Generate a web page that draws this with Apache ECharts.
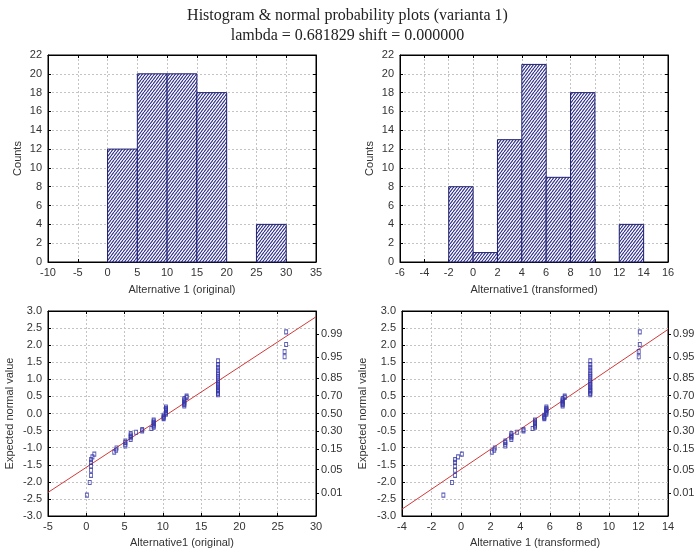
<!DOCTYPE html>
<html><head><meta charset="utf-8">
<script src="https://cdn.jsdelivr.net/npm/echarts@6/dist/echarts.min.js"></script>
<style>html,body{margin:0;padding:0;background:#fff}#c{width:695px;height:551px}</style>
</head><body><div id="c"></div>
<script>
// ---------- data ----------
const titleText = 'Histogram & normal probability plots (varianta 1)\nlambda = 0.681829 shift = 0.000000';

const origBinLo = [0, 5, 10, 15, 25];
const origBinHi = [5, 10, 15, 20, 30];
const origCounts = [12, 20, 20, 18, 4];

const transBinLo = [-2, 0, 2, 4, 6, 8, 12];
const transBinHi = [0, 2, 4, 6, 8, 10, 14];
const transCounts = [8, 1, 13, 21, 9, 18, 4];

const origValues = [
  0.08, 0.45, 0.62, 0.62, 0.62, 0.62, 0.62, 0.8, 1.05, 3.65,
  3.9, 3.95, 5.1, 5.1, 5.1, 5.1, 5.8, 5.8, 5.8, 5.8,
  5.8, 6.5, 7.3, 7.3, 8.5, 8.8, 8.8, 8.8, 8.8, 8.8,
  8.8, 8.8, 10.1, 10.1, 10.1, 10.1, 10.4, 10.4, 10.4, 10.4,
  10.4, 10.4, 10.4, 12.8, 12.8, 12.8, 12.8, 12.8, 12.8, 12.8,
  13.1, 13.1, 17.2, 17.2, 17.2, 17.2, 17.2, 17.2, 17.2, 17.2,
  17.2, 17.2, 17.2, 17.2, 17.2, 17.2, 17.2, 17.2, 17.2, 17.2,
  25.9, 25.9, 26.1, 26.1
];
const transValues = [
  -1.20, -0.62, -0.41, -0.41, -0.41, -0.41, -0.41, -0.21, 0.05, 2.08,
  2.24, 2.28, 2.99, 2.99, 2.99, 2.99, 3.40, 3.40, 3.40, 3.40,
  3.40, 3.79, 4.22, 4.22, 4.84, 5.00, 5.00, 5.00, 5.00, 5.00,
  5.00, 5.00, 5.63, 5.63, 5.63, 5.63, 5.77, 5.77, 5.77, 5.77,
  5.77, 5.77, 5.77, 6.87, 6.87, 6.87, 6.87, 6.87, 6.87, 6.87,
  7.01, 7.01, 8.74, 8.74, 8.74, 8.74, 8.74, 8.74, 8.74, 8.74,
  8.74, 8.74, 8.74, 8.74, 8.74, 8.74, 8.74, 8.74, 8.74, 8.74,
  12.02, 12.02, 12.09, 12.09
];
const expNormal = [
  -2.39, -2.02, -1.81, -1.66, -1.54, -1.43, -1.35, -1.27, -1.19, -1.13,
  -1.07, -1.01, -0.95, -0.90, -0.85, -0.81, -0.76, -0.71, -0.67, -0.63,
  -0.59, -0.55, -0.51, -0.47, -0.44, -0.40, -0.36, -0.33, -0.29, -0.26,
  -0.22, -0.19, -0.15, -0.12, -0.09, -0.05, -0.02, 0.02, 0.05, 0.09,
  0.12, 0.15, 0.19, 0.22, 0.26, 0.29, 0.33, 0.36, 0.40, 0.44,
  0.47, 0.51, 0.55, 0.59, 0.63, 0.67, 0.71, 0.76, 0.81, 0.85,
  0.90, 0.95, 1.01, 1.07, 1.13, 1.19, 1.27, 1.35, 1.43, 1.54,
  1.66, 1.81, 2.02, 2.39
];
const origLine = [[-5, -2.31], [30, 2.83]];
const transLine = [[-4, -2.80], [14, 2.46]];

const probLabels = ['0.01', '0.05', '0.15', '0.30', '0.50', '0.70', '0.85', '0.95', '0.99'];
const probZ = [-2.326, -1.645, -1.036, -0.524, 0, 0.524, 1.036, 1.645, 2.326];

const xNames = ['Alternative 1 (original)', 'Alternative1 (transformed)', 'Alternative1 (original)', 'Alternative 1 (transformed)'];
const yNames = ['Counts', 'Counts', 'Expected normal value', 'Expected normal value'];
const xRanges = [[-10, 35, 5], [-6, 16, 2], [-5, 30, 5], [-4, 14, 2]];
const yRanges = [[0, 22, 2], [0, 22, 2], [-3, 3, 0.5], [-3, 3, 0.5]];

// ---------- style ----------
const FONT = '"Liberation Sans", Arial, sans-serif';
const TXT = '#333';
const grids = [
  {left: 48, top: 55, width: 268, height: 207},
  {left: 400, top: 55, width: 268, height: 207},
  {left: 48, top: 311, width: 268, height: 205},
  {left: 402, top: 311, width: 266, height: 205}
];
const xNameGaps = [22, 22, 21, 21];
const yNameGaps = [25, 25, 33, 34];

function makeHatch() {
  const w = 3, h = 4;
  const c = document.createElement('canvas');
  c.width = w; c.height = h;
  const g = c.getContext('2d');
  g.fillStyle = '#ffffff'; g.fillRect(0, 0, w, h);
  g.strokeStyle = '#2e2e8c'; g.lineWidth = 1.1;
  g.beginPath();
  g.moveTo(0, h); g.lineTo(w, 0);
  g.moveTo(-w, h); g.lineTo(0, 0);
  g.moveTo(w, h); g.lineTo(2 * w, 0);
  g.stroke();
  return c;
}
const hatch = makeHatch();

function renderBin(params, api) {
  const p0 = api.coord([api.value(0), api.value(2)]);
  const p1 = api.coord([api.value(1), 0]);
  return {
    type: 'rect',
    shape: {x: p0[0], y: p0[1], width: p1[0] - p0[0], height: p1[1] - p0[1]},
    style: {fill: {image: hatch, repeat: 'repeat'}, stroke: '#1f1f70', lineWidth: 1}
  };
}

const gridOpt = grids.map(g => Object.assign({show: true, borderColor: '#000', borderWidth: 1, backgroundColor: '#fff', containLabel: false, outerBoundsMode: 'none'}, g));

const axLine = {show: true, onZero: false, lineStyle: {color: '#000'}};
const xAxes = [], yAxes = [];
for (let i = 0; i < 4; i++) {
  xAxes.push({
    type: 'value', gridIndex: i, position: 'bottom',
    min: xRanges[i][0], max: xRanges[i][1], interval: xRanges[i][2],
    name: xNames[i], nameLocation: 'middle', nameGap: xNameGaps[i],
    nameTextStyle: {fontFamily: FONT, fontSize: 11, color: TXT},
    axisLine: axLine,
    axisTick: {show: true, inside: true, length: 3, lineStyle: {color: '#000'}},
    axisLabel: {fontFamily: FONT, fontSize: 11, color: TXT, margin: 5, showMinLabel: true, showMaxLabel: true},
    splitLine: {show: true, lineStyle: {color: '#c4c4c4', type: [2, 2]}}
  });
}
for (let i = 0; i < 4; i++) {
  xAxes.push({
    type: 'value', gridIndex: i, position: 'top',
    min: xRanges[i][0], max: xRanges[i][1], interval: xRanges[i][2],
    axisLine: axLine,
    axisTick: {show: true, inside: true, length: 3, lineStyle: {color: '#000'}},
    axisLabel: {show: false}, splitLine: {show: false}
  });
}
for (let i = 0; i < 4; i++) {
  const prob = i >= 2;
  yAxes.push({
    type: 'value', gridIndex: i, position: 'left',
    min: yRanges[i][0], max: yRanges[i][1], interval: yRanges[i][2],
    name: yNames[i], nameLocation: 'middle', nameGap: yNameGaps[i],
    nameTextStyle: {fontFamily: FONT, fontSize: 11, color: TXT},
    axisLine: axLine,
    axisTick: {show: true, inside: true, length: 3, lineStyle: {color: '#000'}},
    axisLabel: {fontFamily: FONT, fontSize: 11, color: TXT, margin: 6,
      formatter: prob ? (v => v.toFixed(1)) : (v => String(v))},
    splitLine: {show: true, lineStyle: {color: '#c4c4c4', type: [2, 2]}}
  });
}
for (let i = 0; i < 4; i++) {
  const prob = i >= 2;
  const ax = {
    type: 'value', gridIndex: i, position: 'right',
    min: yRanges[i][0], max: yRanges[i][1], interval: yRanges[i][2],
    axisLine: axLine,
    splitLine: {show: false}
  };
  if (prob) {
    ax.axisTick = {show: true, inside: false, length: 3, customValues: probZ, lineStyle: {color: '#000'}};
    ax.axisLabel = {show: true, fontFamily: FONT, fontSize: 11, color: TXT, margin: 5, customValues: probZ,
      formatter: v => {
        let best = 0;
        for (let k = 0; k < probZ.length; k++) if (Math.abs(probZ[k] - v) < Math.abs(probZ[best] - v)) best = k;
        return probLabels[best];
      }};
  } else {
    ax.axisTick = {show: true, inside: true, length: 3, lineStyle: {color: '#000'}};
    ax.axisLabel = {show: false};
  }
  yAxes.push(ax);
}

const binData = (lo, hi, cnt) => lo.map((v, k) => [v, hi[k], cnt[k]]);
const pts = (xs, zs) => xs.map((v, k) => [v, zs[k]]);

const scatterStyle = {
  type: 'scatter', symbol: 'rect', symbolSize: [3, 4],
  itemStyle: {color: 'rgba(255,255,255,0)', borderColor: '#3434a8', borderWidth: 1},
  silent: true, z: 3
};
const lineStyle = {
  type: 'line', symbol: 'none', silent: true, z: 2,
  lineStyle: {color: '#d23a3a', width: 1}
};

const option = {
  animation: false,
  backgroundColor: '#fff',
  title: {
    text: titleText, left: 'center', top: 1,
    textStyle: {fontFamily: '"Liberation Serif", "Times New Roman", serif', fontSize: 16, fontWeight: 'normal', color: '#222', lineHeight: 20}
  },
  grid: gridOpt,
  xAxis: xAxes,
  yAxis: yAxes,
  series: [
    {type: 'custom', xAxisIndex: 0, yAxisIndex: 0, renderItem: renderBin, encode: {x: [0, 1], y: 2},
      data: binData(origBinLo, origBinHi, origCounts), silent: true},
    {type: 'custom', xAxisIndex: 1, yAxisIndex: 1, renderItem: renderBin, encode: {x: [0, 1], y: 2},
      data: binData(transBinLo, transBinHi, transCounts), silent: true},
    Object.assign({}, lineStyle, {xAxisIndex: 2, yAxisIndex: 2, data: origLine}),
    Object.assign({}, scatterStyle, {xAxisIndex: 2, yAxisIndex: 2, data: pts(origValues, expNormal)}),
    Object.assign({}, lineStyle, {xAxisIndex: 3, yAxisIndex: 3, data: transLine}),
    Object.assign({}, scatterStyle, {xAxisIndex: 3, yAxisIndex: 3, data: pts(transValues, expNormal)})
  ]
};

const chart = echarts.init(document.getElementById('c'), null, {renderer: 'canvas'});
chart.setOption(option);
</script>
</body></html>
